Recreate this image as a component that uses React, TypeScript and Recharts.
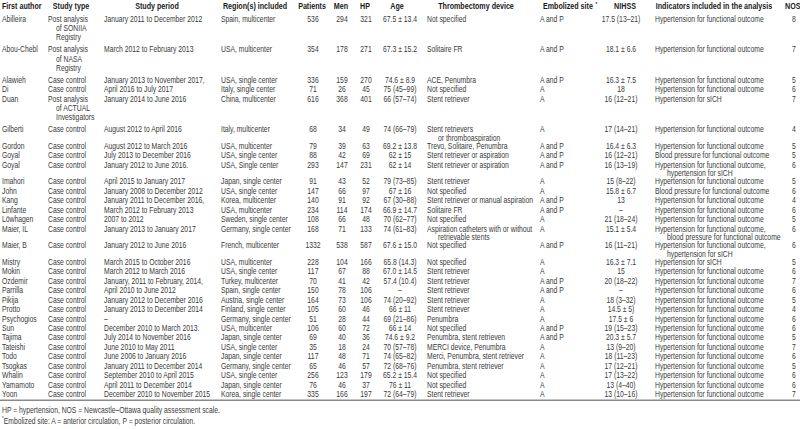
import React from 'react';
import { ScatterChart, Scatter, XAxis, YAxis, ReferenceLine } from 'recharts';

const authors = [
  'Abilleira', 'Abou-Chebl', 'Alawieh', 'Di', 'Duan', 'Gilberti', 'Gordon', 'Goyal', 'Goyal', 'Imahori',
  'John', 'Kang', 'Linfante', 'Löwhagen', 'Maier, IL', 'Maier, B', 'Mistry', 'Mokin', 'Ozdemir', 'Parrilla',
  'Pikija', 'Protto', 'Psychogios', 'Sun', 'Tajima', 'Tateishi', 'Todo', 'Tsogkas', 'Whalin', 'Yamamoto', 'Yoon',
];

const CC = 'Case control';
const studyTypes = [
  'Post analysis\nof SONIIA\nRegistry', 'Post analysis\nof NASA\nRegistry', CC, CC,
  'Post analysis\nof ACTUAL\nInvestigators', CC, CC, CC, CC, CC,
  CC, CC, CC, CC, CC, CC, CC, CC, CC, CC,
  CC, CC, CC, CC, CC, CC, CC, CC, CC, CC, CC,
];

const periods = [
  'January 2011 to December 2012', 'March 2012 to February 2013', 'January 2013 to November 2017,',
  'April 2016 to July 2017', 'January 2014 to June 2016', 'August 2012 to April 2016', 'August 2012 to March 2016',
  'July 2013 to December 2016', 'January 2012 to June 2016.', 'April 2015 to January 2017',
  'January 2008 to December 2012', 'January 2011 to December 2016,', 'March 2012 to February 2013', '2007 to 2012',
  'January 2013 to January 2017', 'January 2012 to June 2016', 'March 2015 to October 2016', 'March 2012 to March 2016',
  'January, 2011 to February, 2014,', 'April 2010 to June 2012', 'January 2012 to December 2016',
  'January 2013 to December 2014', '–', 'December 2010 to March 2013.', 'July 2014 to November 2016',
  'June 2010 to May 2011', 'June 2006 to January 2016', 'January 2011 to December 2014',
  'September 2010 to April 2015', 'April 2011 to December 2014', 'December 2010 to November 2015',
];

const regions = [
  'Spain, multicenter', 'USA, multicenter', 'USA, single center', 'Italy, single center', 'China, multicenter',
  'Italy, multicenter', 'USA, multicenter', 'USA, single center', 'USA, Single center', 'Japan, single center',
  'USA, single center', 'Korea, multicenter', 'USA, multicenter', 'Sweden, single center', 'Germany, single center',
  'French, multicenter', 'USA, multicenter', 'USA, single center', 'Turkey, multicenter', 'Spain, single center',
  'Austria, single center', 'Finland, single center', 'Germany, single center', 'USA, multicenter',
  'Japan, single center', 'USA, single center', 'Japan, single center', 'Germany, single center',
  'USA, single center', 'Japan, single center', 'Korea, single center',
];

const patients = [536, 354, 336, 71, 616, 68, 79, 88, 293, 91, 147, 140, 234, 108, 168, 1332, 228, 117, 70, 150, 164, 105, 51, 106, 69, 35, 117, 65, 256, 76, 335];
const men = [294, 178, 159, 26, 368, 34, 39, 42, 147, 43, 66, 91, 114, 66, 71, 538, 104, 67, 41, 78, 73, 60, 28, 60, 40, 18, 48, 46, 123, 46, 166];
const hp = [321, 271, 270, 45, 401, 49, 63, 69, 231, 52, 97, 92, 174, 48, 133, 587, 166, 88, 42, 106, 106, 46, 44, 72, 36, 24, 71, 57, 179, 37, 197];

const ages = [
  '67.5 ± 13.4', '67.3 ± 15.2', '74.6 ± 8.9', '75 (45–99)', '66 (57–74)', '74 (66–79)', '69.2 ± 13.8',
  '62 ± 15', '62 ± 14', '79 (73–85)', '67 ± 16', '67 (30–88)', '66.9 ± 14.7', '70 (62–77)', '74 (61–83)',
  '67.6 ± 15.0', '65.8 (14.3)', '67.0 ± 14.5', '57.4 (10.4)', '–', '74 (20–92)', '66 ± 11', '69 (21–86)',
  '66 ± 14', '74.6 ± 9.2', '70 (57–78)', '74 (65–82)', '72 (68–76)', '65.2 ± 15.4', '76 ± 11', '72 (64–79)',
];

const devices = [
  'Not specified', 'Solitaire FR', 'ACE, Penumbra', 'Not specified', 'Stent retriever',
  'Stent retrievers\nor thromboaspiration', 'Trevo, Solitaire, Penumbra', 'Stent retriever or aspiration',
  'Stent retriever or aspiration', 'Stent retriever', 'Not specified', 'Stent retriever or manual aspiration',
  'Solitaire FR', 'Not specified', 'Aspiration catheters with or without\nretrievable stents', 'Not specified',
  'Not specified', 'Stent retriever', 'Stent retriever', 'Stent retriever', 'Stent retriever', 'Stent retriever',
  'Penumbra', 'Not specified', 'Penumbra, stent retrieven', 'MERCI device, Penumbra',
  'Merci, Penumbra, stent retriever', 'Penumbra, stent retriever', 'Not specified', 'Not specified', 'Stent retriever',
];

const sites = [
  'A and P', 'A and P', 'A and P', 'A', 'A', 'A', 'A and P', 'A and P', 'A and P', 'A', 'A', 'A and P', 'A and P',
  'A', 'A', 'A and P', 'A', 'A', 'A and P', 'A and P', 'A', 'A', 'A', 'A and P', 'A and P', 'A', 'A', 'A', 'A', 'A', 'A',
];

const nihss = [
  '17.5 (13–21)', '18.1 ± 6.6', '16.3 ± 7.5', '18', '16 (12–21)', '17 (14–21)', '16.4 ± 6.3', '16 (12–21)',
  '16 (13–19)', '15 (8–22)', '15.8 ± 6.7', '13', '–', '21 (18–24)', '15.1 ± 5.4', '16 (11–21)', '16.3 ± 7.1',
  '15', '20 (18–22)', '–', '18 (3–32)', '14.5 ± 5)', '17.5 ± 6', '19 (15–23)', '20.3 ± 5.7', '13 (9–20)',
  '18 (11–23)', '17 (12–21)', '17 (13–22)', '13 (4–40)', '13 (10–16)',
];

const HFO = 'Hypertension for functional outcome';
const indicators = [
  HFO, HFO, HFO, HFO, 'Hypertension for sICH', HFO, HFO, 'Blood pressure for functional outcome',
  'Hypertension for functional outcome,\nhypertension for sICH', HFO, 'Blood pressure for functional outcome',
  HFO, HFO, HFO, 'Hypertension for functional outcome,\nblood pressure for functional outcome',
  'Hypertension for functional outcome,\nhypertension for sICH', 'Hypertension for sICH', HFO, HFO, HFO,
  HFO, HFO, HFO, HFO, HFO, HFO, HFO, HFO, HFO, HFO, HFO,
];

const nos = [8, 7, 5, 6, 7, 4, 5, 5, 6, 5, 6, 4, 6, 5, 6, 6, 5, 6, 7, 6, 5, 4, 6, 6, 5, 7, 6, 5, 6, 6, 7];

const headers = [
  'First author', 'Study type', 'Study period', 'Region(s) included', 'Patients', 'Men', 'HP', 'Age',
  'Thrombectomy device', 'Embolized site', 'NIHSS', 'Indicators included in the analysis', 'NOS',
];

const footnotes = [
  'HP = hypertension, NOS = Newcastle–Ottawa quality assessment scale.',
  'Embolized site: A = anterior circulation, P = posterior circulation.',
];

// column layout: value x, header x, alignment, indent of wrapped lines
const COLS = [
  { values: authors, x: 2, hx: 2, anchor: 'start', hAnchor: 'start', indent: 0 },
  { values: studyTypes, x: 48, hx: 71, anchor: 'start', hAnchor: 'middle', indent: 8 },
  { values: periods, x: 104, hx: 157, anchor: 'start', hAnchor: 'middle', indent: 0 },
  { values: regions, x: 221, hx: 255, anchor: 'start', hAnchor: 'middle', indent: 0 },
  { values: patients, x: 313, hx: 312, anchor: 'middle', hAnchor: 'middle', indent: 0 },
  { values: men, x: 342, hx: 341, anchor: 'middle', hAnchor: 'middle', indent: 0 },
  { values: hp, x: 366, hx: 365, anchor: 'middle', hAnchor: 'middle', indent: 0 },
  { values: ages, x: 400, hx: 397, anchor: 'middle', hAnchor: 'middle', indent: 0 },
  { values: devices, x: 427, hx: 476, anchor: 'start', hAnchor: 'middle', indent: 11 },
  { values: sites, x: 540, hx: 543, anchor: 'start', hAnchor: 'start', indent: 0, sup: true },
  { values: nihss, x: 621, hx: 625, anchor: 'middle', hAnchor: 'middle', indent: 0 },
  { values: indicators, x: 655, hx: 714, anchor: 'start', hAnchor: 'middle', indent: 12 },
  { values: nos, x: 794, hx: 785, anchor: 'middle', hAnchor: 'start', indent: 0 },
];

const W = 800;
const H = 429;
const UNIT = 9.45; // px per single row
const FIRST = 19; // y of first body line
const FONT = "'Liberation Sans', Arial, sans-serif";
const FS = 8.4;
const SX = 0.81; // horizontal squeeze to mimic a condensed face

// row height / wrapped-line step, in row units, by number of lines in the row
const rowHeight = (n: number) => (n === 1 ? 1 : n === 2 ? 1.76 : 3.23);
const lineStep = (n: number) => (n === 2 ? 0.9 : 0.98);

const rowStart: number[] = [];
const rowLines: number[] = [];
let cursor = 0;
authors.forEach((_, i) => {
  rowStart.push(cursor);
  const n = Math.max(...COLS.map((c) => String(c.values[i]).split('\n').length));
  rowLines.push(n);
  cursor += rowHeight(n);
});
const lastLine = rowStart[rowStart.length - 1];

const columnData = COLS.map((c) => {
  const pts: any[] = [];
  c.values.forEach((v, i) => {
    String(v).split('\n').forEach((t, k) => {
      pts.push({
        x: c.x,
        y: rowStart[i] + k * lineStep(rowLines[i]),
        text: t,
        anchor: c.anchor,
        indent: k > 0 ? c.indent : 0,
      });
    });
  });
  return pts;
});

const headerData = COLS.map((c, i) => ({
  x: c.hx, y: -1.35, text: headers[i], anchor: c.hAnchor, indent: 0, bold: true, sup: !!c.sup,
}));

const footData = footnotes.map((t, i) => ({
  x: 2, y: lastLine + 1.65 + i * 1.17, text: t, anchor: 'start', indent: 0, lead: i === 1,
}));

const TextMark = (props: any) => {
  const { cx, cy, payload } = props;
  if (cx == null || cy == null) return null;
  const sx = payload.bold ? SX + 0.02 : SX;
  return (
    <text
      transform={`translate(${cx + (payload.indent || 0)},${cy}) scale(${sx},1)`}
      x={0}
      y={0}
      textAnchor={payload.anchor}
      dominantBaseline="central"
      fontFamily={FONT}
      fontSize={payload.bold ? FS + 0.2 : FS}
      fontWeight={payload.bold ? 700 : 400}
      fill={payload.bold ? '#1a1a1a' : '#3a3a3a'}
    >
      {payload.lead && (
        <tspan fontSize={5.5} dy={-3}>*</tspan>
      )}
      {payload.lead ? <tspan dy={3}>{payload.text}</tspan> : payload.text}
      {payload.sup && (
        <tspan fontSize={5.5} dx={3} dy={-2.5}>*</tspan>
      )}
    </text>
  );
};

const yMin = -FIRST / UNIT;
const yMax = (H - FIRST) / UNIT;

export default function App() {
  return (
    <div style={{ position: 'absolute', left: 0, top: 0, width: W, height: H, background: '#fff' }}>
      <ScatterChart width={W} height={H} margin={{ top: 0, right: 0, bottom: 0, left: 0 }}>
        <XAxis type="number" dataKey="x" domain={[0, W]} hide allowDataOverflow />
        <YAxis type="number" dataKey="y" domain={[yMin, yMax]} reversed hide allowDataOverflow />
        <ReferenceLine y={lastLine + 0.62} stroke="#8a8a8a" strokeWidth={1.6} />
        <Scatter data={headerData} shape={TextMark} isAnimationActive={false} />
        {columnData.map((d, i) => (
          <Scatter key={i} data={d} shape={TextMark} isAnimationActive={false} />
        ))}
        <Scatter data={footData} shape={TextMark} isAnimationActive={false} />
      </ScatterChart>
    </div>
  );
}
